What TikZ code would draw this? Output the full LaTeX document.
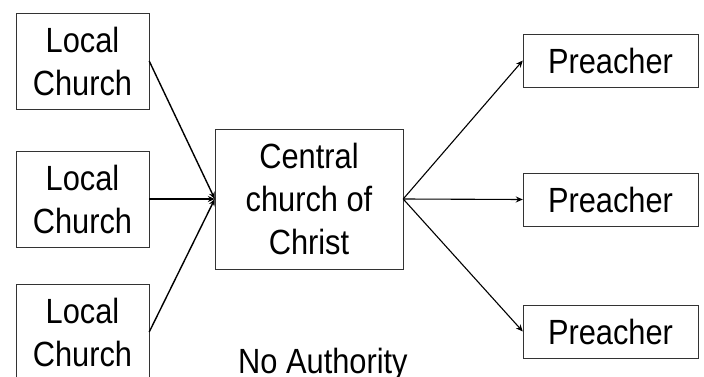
\documentclass[tikz,border=0pt]{standalone}
\usepackage{fontspec}
\setmainfont{Liberation Sans}[FakeStretch=0.88]
\usetikzlibrary{arrows.meta}
\tikzset{
  box/.style={draw=black!80,thin,align=center,inner sep=0pt},
  con/.style={line width=1.4pt,-{Stealth[length=7pt,width=6pt]}},
}
\begin{document}
\begin{tikzpicture}[x=1pt,y=-1pt,font=\fontsize{35}{43}\selectfont]
        \useasboundingbox (0,0) rectangle (704,377);
        \node [box,minimum width=133pt,minimum height=96pt] (l1) at (82.5,61) {Local\\Church};
        \node [box,minimum width=133pt,minimum height=96pt] (l2) at (82.5,199) {Local\\Church};
        \node [box,minimum width=133pt,minimum height=96pt] (l3) at (82.5,332) {Local\\Church};
        \node [box,minimum width=188pt,minimum height=140pt] (c) at (309,199) {Central\\church of\\Christ};
        \node [box,minimum width=175pt,minimum height=53pt] (p1) at (610.5,60.5) {Preacher};
        \node [box,minimum width=175pt,minimum height=53pt] (p2) at (610.5,199.5) {Preacher};
        \node [box,minimum width=175pt,minimum height=53pt] (p3) at (610.5,331.5) {Preacher};
        \node [anchor=base west,inner sep=0pt] (n) at (238,373) {No Authority};
        \draw [con] (l1.east) to (c.west);
        \draw [con] (l2.east) to (c.west);
        \draw [con] (l3.east) to (c.west);
        \draw [con,line width=1.1pt] (c.east) to (p1.west);
        \draw [con,line width=1.1pt] (c.east) to (p2.west);
        \draw [con,line width=1.1pt] (c.east) to (p3.west);
\end{tikzpicture}
\end{document}
